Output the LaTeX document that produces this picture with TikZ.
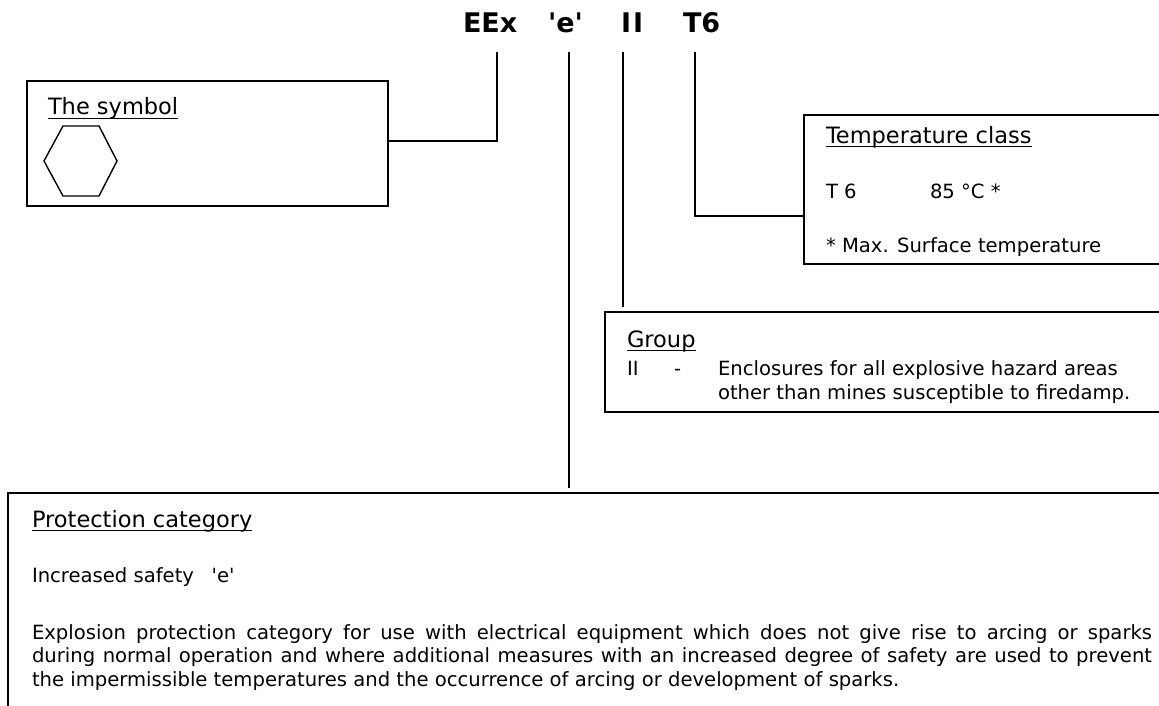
\documentclass[tikz,border=0pt]{standalone}
\usepackage{fontspec}
\setmainfont{DejaVu Sans}
\begin{document}
\begin{tikzpicture}[x=1pt,y=-1pt,
  box/.style={draw, line width=1.8pt, inner sep=0pt, outer sep=0pt, anchor=north west},
  link/.style={line width=1.8pt},
  uline/.style={line width=1.6pt},
  txt/.style={anchor=base west, inner sep=0pt, outer sep=0pt, font=\fontsize{19.6}{23.5}\selectfont},
  head/.style={anchor=base west, inner sep=0pt, outer sep=0pt, font=\fontsize{22.5}{27}\selectfont},
  ttl/.style={anchor=base west, inner sep=0pt, outer sep=0pt, font=\fontsize{27}{32}\selectfont\bfseries}]
\useasboundingbox (0,0) rectangle (1159,706);
\clip (0,0) rectangle (1159,706);

% title tokens
\node[ttl] (eex) at (463,33) {EEx};
\node[ttl] (ee) at (548,33) {\textquotesingle e\textquotesingle};
\node[ttl] (ii) at (621,33) {I\kern2ptI};
\node[ttl] (t6) at (683,33) {T6};

% boxes
\node[box, minimum width=361pt, minimum height=125pt] (symbol) at (27,81) {};
\node[box, minimum width=420pt, minimum height=149pt] (temp) at (804,115) {};
\node[box, minimum width=620pt, minimum height=100pt] (group) at (605,312) {};
\node[box, minimum width=1200pt, minimum height=300pt] (prot) at (8,493) {};

% connector points
\coordinate (eexdrop) at (497,52);
\coordinate (eexbend) at (497,141);
\coordinate (eedrop) at (569,52);
\coordinate (eeend) at (569,488);
\coordinate (iidrop) at (623,52);
\coordinate (iiend) at (623,307);
\coordinate (t6drop) at (695,52);
\coordinate (t6bend) at (695,216);

\draw[link] (eexdrop) -- (eexbend) -- (symbol.east |- eexbend);
\draw[link] (eedrop) -- (eeend);
\draw[link] (iidrop) -- (iiend);
\draw[link] (t6drop) -- (t6bend) -- (temp.west |- t6bend);

% symbol box content
\node[head] (symtitle) at (48,115) {The symbol};
\draw[uline] ([yshift=-3.5pt]symtitle.base west) -- ([yshift=-3.5pt]symtitle.base east);
\draw[line width=1.4pt, line join=miter] (63,126) -- (99,126) -- (117,161) -- (99,196) -- (63,196) -- (44,161) -- cycle;

% temperature box content
\node[head] (temptitle) at (826,143) {Temperature class};
\draw[uline] ([yshift=-3.5pt]temptitle.base west) -- ([yshift=-3.5pt]temptitle.base east);
\node[txt] (tsix) at (826,198) {T 6};
\node[txt] (tval) at (930,198) {85 °C *};
\node[txt] (tnote) at (826,252) {* Max. Surface temperature};

% group box content
\node[head] (grouptitle) at (627,347) {Group};
\draw[uline] ([yshift=-3.5pt]grouptitle.base west) -- ([yshift=-3.5pt]grouptitle.base east);
\node[txt] (gii) at (627,375) {II};
\node[txt] (gdash) at (674,375) {-};
\node[txt] (gl1) at (718,375) {Enclosures for all explosive hazard areas};
\node[txt] (gl2) at (718,399) {other than mines susceptible to firedamp.};

% protection box content
\node[head] (prottitle) at (32,527) {Protection category};
\draw[uline] ([yshift=-3.5pt]prottitle.base west) -- ([yshift=-3.5pt]prottitle.base east);
\node[txt] (protsub) at (32,582) {Increased safety\hspace{0.9em}\textquotesingle e\textquotesingle};
\node[txt] (protpara) at (32,639) {\vtop{%
\hbox to 1120pt{Explosion protection category for use with electrical equipment which does not give rise to arcing or sparks}
\hbox to 1120pt{during normal operation and where additional measures with an increased degree of safety are used to prevent}
\hbox{the impermissible temperatures and the occurrence of arcing or development of sparks.}}};
\end{tikzpicture}
\end{document}
